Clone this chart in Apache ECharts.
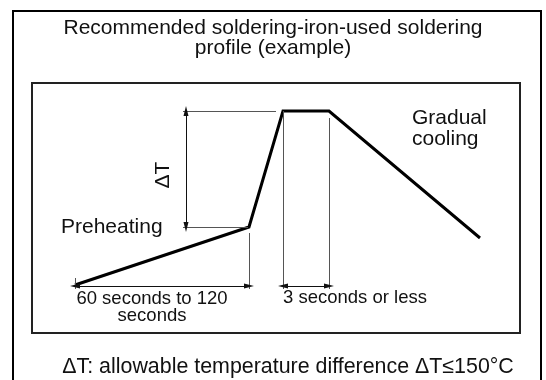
<!DOCTYPE html>
<html>
<head>
<meta charset="utf-8">
<script src="https://cdn.jsdelivr.net/npm/echarts@6/dist/echarts.min.js"></script>
<style>
  html, body { margin: 0; padding: 0; background: #fff; }
  #chart { width: 546px; height: 380px; }
</style>
</head>
<body>
<div id="chart"></div>
<script>
// Soldering profile break points, in schematic units (time to the right, temperature up)
const profileTime = [43, 217, 251, 297, 448];
const profileTemp = [48, 106, 222, 222, 95];

// Texts
const titleLines = ['Recommended soldering-iron-used soldering', 'profile (example)'];
const preheatLabel = 'Preheating';
const coolingLabel = 'Gradual\ncooling';
const preheatSpanLabel = '60 seconds to 120\nseconds';
const peakSpanLabel = '3 seconds or less';
const deltaLabel = '\u0394T';
const noteText = '\u0394T: allowable temperature difference \u0394T\u2264150\u00b0C';

const FONT = '"Liberation Sans", Arial, Helvetica, sans-serif';
const chart = echarts.init(document.getElementById('chart'), null, { renderer: 'canvas' });

// Dimension layout (in the same schematic units as the profile)
const spanLevel = 47;      // height of the horizontal time-span dimension lines
const extFoot = 44;        // lower end of the vertical extension lines
const deltaX = 154;        // x of the vertical ΔT dimension line
const deltaExtStart = 151; // left end of the ΔT extension lines

const P = profileTime.map((t, i) => [t, profileTemp[i]]);

const thin = { color: '#555', width: 1, type: 'solid' };
const dim = { color: '#111', width: 1, type: 'solid' };
const arrow = 'triangle';
const arrowSize = [5, 10];

function ext(a, b) {
  return [{ coord: a, symbol: 'none', lineStyle: thin }, { coord: b, symbol: 'none' }];
}
function dimLine(a, b) {
  return [
    { coord: a, symbol: arrow, symbolSize: arrowSize, lineStyle: dim, itemStyle: { color: '#111' } },
    { coord: b, symbol: arrow, symbolSize: arrowSize, itemStyle: { color: '#111' } }
  ];
}

const markData = [
  // extension lines for the preheating span
  ext([P[0][0], P[0][1] + 7], [P[0][0], extFoot]),
  ext([P[1][0], P[1][1] - 6], [P[1][0], extFoot]),
  // extension lines for the peak span
  ext([P[2][0], P[2][1]], [P[2][0], extFoot]),
  ext([P[3][0], P[3][1] - 7], [P[3][0], extFoot]),
  // extension lines for ΔT
  ext([deltaExtStart, P[2][1]], [P[2][0] - 7, P[2][1]]),
  ext([deltaExtStart, P[1][1]], [P[1][0] - 1, P[1][1]]),
  // dimension lines
  dimLine([P[0][0], spanLevel], [P[1][0], spanLevel]),
  dimLine([P[2][0], spanLevel], [P[3][0], spanLevel]),
  dimLine([deltaX, P[1][1]], [deltaX, P[2][1]])
];

function label(x, y, text, size, align, lineHeight, extra) {
  return Object.assign({
    type: 'text',
    x: x, y: y,
    silent: true,
    style: {
      text: text,
      font: size + 'px ' + FONT,
      fill: '#111',
      align: align,
      verticalAlign: 'middle',
      lineHeight: lineHeight
    }
  }, extra || {});
}

chart.setOption({
  animation: false,
  backgroundColor: '#fff',
  title: {
    text: titleLines.join('\n'),
    left: 'center',
    top: 18,
    padding: 0,
    textStyle: { fontFamily: FONT, fontSize: 21, fontWeight: 'normal', color: '#111', lineHeight: 20 }
  },
  grid: {
    left: 32, top: 83, width: 488, height: 250,
    show: true, borderColor: '#222', borderWidth: 2, backgroundColor: 'transparent'
  },
  xAxis: { type: 'value', min: 0, max: 488, show: false },
  yAxis: { type: 'value', min: 0, max: 250, show: false },
  series: [{
    type: 'line',
    data: P,
    symbol: 'none',
    silent: true,
    lineStyle: { color: '#000', width: 3, join: 'miter' },
    markLine: {
      silent: true,
      animation: false,
      label: { show: false },
      emphasis: { disabled: true },
      data: markData
    }
  }],
  graphic: [
    // outer frame
    { type: 'rect', silent: true, shape: { x: 13, y: 11, width: 528, height: 420 },
      style: { fill: 'none', stroke: '#000', lineWidth: 2 } },
    label(61, 227, preheatLabel, 21, 'left', 21),
    label(412, 129, coolingLabel, 21, 'left', 21),
    label(163, 175, deltaLabel, 21, 'center', 21, { rotation: Math.PI / 2 }),
    label(152, 307, preheatSpanLabel, 18.5, 'center', 17),
    label(283, 298, peakSpanLabel, 18.5, 'left', 18.5),
    label(288, 367, noteText, 21.4, 'center', 21.4)
  ]
});
</script>
</body>
</html>
